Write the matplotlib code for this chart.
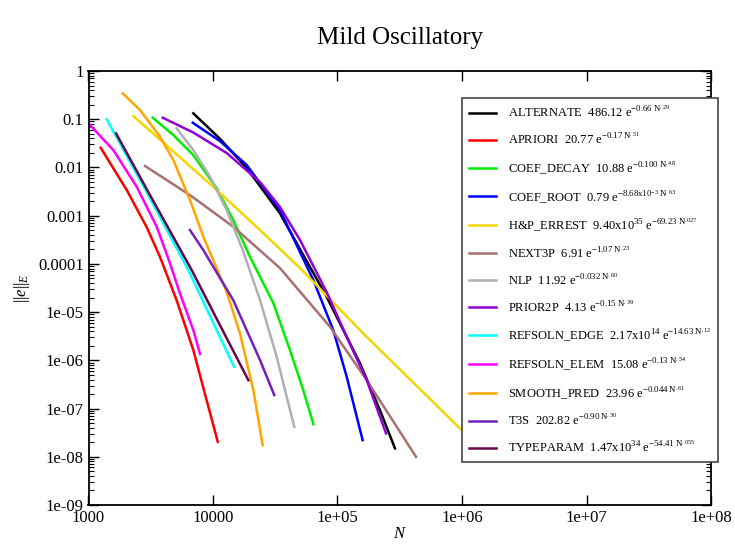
import matplotlib
matplotlib.use("Agg")
import matplotlib.pyplot as plt
from matplotlib.ticker import FixedLocator, FixedFormatter, LogLocator, NullLocator

plt.rcParams['font.family'] = ['Liberation Serif', 'DejaVu Serif']
plt.rcParams['mathtext.fontset'] = 'custom'
plt.rcParams['mathtext.rm'] = 'Liberation Serif'
plt.rcParams['mathtext.it'] = 'Liberation Serif:italic'

# values (N, ||e||_E)
alt_n = [6950, 11370, 18660, 34500, 81800, 151700, 219300, 289700]
alt_e = [0.1324, 0.0394, 0.00972, 0.001117, 2.08e-5, 8.63e-7, 9.27e-8, 1.49e-8]

apr_n = [1253, 2028, 2931, 3750, 5100, 6950, 8890, 10920]
apr_e = [0.0256, 0.0034, 5.8e-4, 1.40e-4, 1.77e-5, 1.63e-6, 1.49e-7, 2.04e-8]

dec_n = [3280, 4800, 6950, 10720, 14550, 19820, 30500, 41500, 53100, 64000]
dec_e = [0.1074, 0.0470, 0.0180, 0.00368, 8.1e-4, 1.40e-4, 1.54e-5, 1.63e-6, 2.41e-7, 4.75e-8]

root_n = [6870, 11370, 18660, 34500, 64000, 92500, 118600, 159200]
root_e = [0.0846, 0.0353, 0.01122, 0.001306, 4.61e-5, 4.23e-6, 4.55e-7, 2.21e-8]

hp_n = [2291, 3750, 10720, 23870, 50000, 161000, 995000, 1270000]
hp_e = [0.1165, 0.0379, 0.0034, 5.02e-4, 8.18e-5, 3.61e-6, 3.56e-8, 1.92e-8]

nx3_n = [2845, 6530, 14550, 34500, 87100, 171800, 427600]
nx3_e = [0.0107, 0.00267, 5.89e-4, 8.18e-5, 4.95e-6, 3.88e-7, 9.95e-9]

nlp_n = [5100, 6950, 9460, 12890, 17340, 23870, 32500, 39100, 45000]
nlp_e = [0.0648, 0.02296, 0.00641, 0.001306, 1.93e-4, 1.77e-5, 1.18e-6, 1.75e-7, 4.17e-8]

p2p_n = [3945, 6950, 12890, 23870, 34500, 50000, 81800, 126000, 171800, 245500]
p2p_e = [0.1074, 0.053, 0.0199, 0.00498, 0.00151, 3.12e-4, 2.6e-5, 2.17e-6, 3.88e-7, 3.04e-8]

edge_n = [1400, 2845, 6340, 14760]
edge_e = [0.0995, 0.00356, 7.43e-5, 7.33e-7]

elem_n = [1028, 1582, 2438, 3532, 4520, 5430, 6950, 7870]
elem_e = [0.0758, 0.02296, 0.00398, 5.89e-4, 1.02e-4, 2.44e-5, 4.23e-6, 1.35e-6]

smp_n = [1884, 2595, 3750, 4800, 6530, 8360, 12890, 16480, 21100, 25060]
smp_e = [0.344, 0.155, 0.0434, 0.01425, 0.00211, 3.65e-4, 2.6e-5, 3.61e-6, 2.41e-7, 1.74e-8]

t3s_n = [6530, 8360, 14550, 23870, 31050]
t3s_e = [5.02e-4, 1.93e-4, 1.77e-5, 1.01e-6, 1.90e-7]

typ_n = [1663, 3119, 6745, 11370, 19230]
typ_e = [0.0510, 0.00267, 7.43e-5, 5.37e-6, 3.88e-7]

labels = [
    r'ALTERNATE  486.12 e$^{-0.66\ \mathrm{N}^{.29}}$',
    r'APRIORI  20.77 e$^{-0.17\ \mathrm{N}^{.51}}$',
    r'COEF_DECAY  10.88 e$^{-0.100\ \mathrm{N}^{.48}}$',
    r'COEF_ROOT  0.79 e$^{-8.68\mathrm{x}10^{-3}\ \mathrm{N}^{.63}}$',
    r'H&P_ERREST  9.40x10$^{35}$ e$^{-69.23\ \mathrm{N}^{.027}}$',
    r'NEXT3P  6.91 e$^{-1.07\ \mathrm{N}^{.23}}$',
    r'NLP  11.92 e$^{-0.032\ \mathrm{N}^{.60}}$',
    r'PRIOR2P  4.13 e$^{-0.15\ \mathrm{N}^{.39}}$',
    r'REFSOLN_EDGE  2.17x10$^{14}$ e$^{-14.63\ \mathrm{N}^{.12}}$',
    r'REFSOLN_ELEM  15.08 e$^{-0.13\ \mathrm{N}^{.54}}$',
    r'SMOOTH_PRED  23.96 e$^{-0.044\ \mathrm{N}^{.61}}$',
    r'T3S  202.82 e$^{-0.90\ \mathrm{N}^{.30}}$',
    r'TYPEPARAM  1.47x10$^{34}$ e$^{-54.41\ \mathrm{N}^{.055}}$',
]

xticks = [1e3, 1e4, 1e5, 1e6, 1e7, 1e8]
xticklabels = ['1000', '10000', '1e+05', '1e+06', '1e+07', '1e+08']
yticks = [1, 0.1, 0.01, 0.001, 0.0001, 1e-5, 1e-6, 1e-7, 1e-8, 1e-9]
yticklabels = ['1', '0.1', '0.01', '0.001', '0.0001', '1e-05', '1e-06', '1e-07', '1e-08', '1e-09']

series = [(alt_n, alt_e, 'black'), (apr_n, apr_e, 'red'), (dec_n, dec_e, '#00ee00'),
          (root_n, root_e, '#0000ff'), (hp_n, hp_e, '#f2d600'), (nx3_n, nx3_e, '#a87070'),
          (nlp_n, nlp_e, '#b0b0b0'), (p2p_n, p2p_e, '#9400d3'), (edge_n, edge_e, '#00ffff'),
          (elem_n, elem_e, '#ff00ff'), (smp_n, smp_e, '#ffa500'), (t3s_n, t3s_e, '#7221bc'),
          (typ_n, typ_e, '#670748')]

fig = plt.figure(figsize=(7.35, 5.48), dpi=100)
ax = fig.add_axes([88.5/735, 1-505/548, (711-88.5)/735, (505-71)/548])

for (n, e, c), lab in zip(series, labels):
    ax.plot(n, e, color=c, lw=1.8, label=lab)

ax.set_xscale('log')
ax.set_yscale('log')
ax.set_xlim(1e3, 1e8)
ax.set_ylim(1e-9, 1)

ax.xaxis.set_major_locator(FixedLocator(xticks))
ax.xaxis.set_major_formatter(FixedFormatter(xticklabels))
ax.xaxis.set_minor_locator(NullLocator())
ax.yaxis.set_major_locator(FixedLocator(yticks))
ax.yaxis.set_major_formatter(FixedFormatter(yticklabels))
ax.yaxis.set_minor_locator(LogLocator(base=10, subs=range(2, 10), numticks=20))

ax.tick_params(which='both', direction='in', top=True, right=True, labelsize=12)
ax.tick_params(which='major', length=7, width=1)
ax.tick_params(which='minor', length=3.5, width=0.8)
for s in ax.spines.values():
    s.set_linewidth(1.3)

ax.set_xlabel(r'$\mathit{N}$', fontsize=12, labelpad=0)
ax.set_ylabel(r'$||\mathit{e}||_{\mathit{E}}$', fontsize=12, labelpad=4)
fig.text(0.544, 1-38/548, 'Mild Oscillatory', ha='center', va='center', fontsize=18)

leg = ax.legend(loc='upper left', bbox_to_anchor=(462/735, 1-98/548),
                bbox_transform=fig.transFigure, borderaxespad=0, fontsize=9,
                frameon=True, fancybox=False, edgecolor='#444444', framealpha=1,
                handlelength=2.2, handletextpad=0.9, labelspacing=0.95, borderpad=0.55)
leg.get_frame().set_linewidth(1.2)

fig.savefig('out.png', dpi=100)
